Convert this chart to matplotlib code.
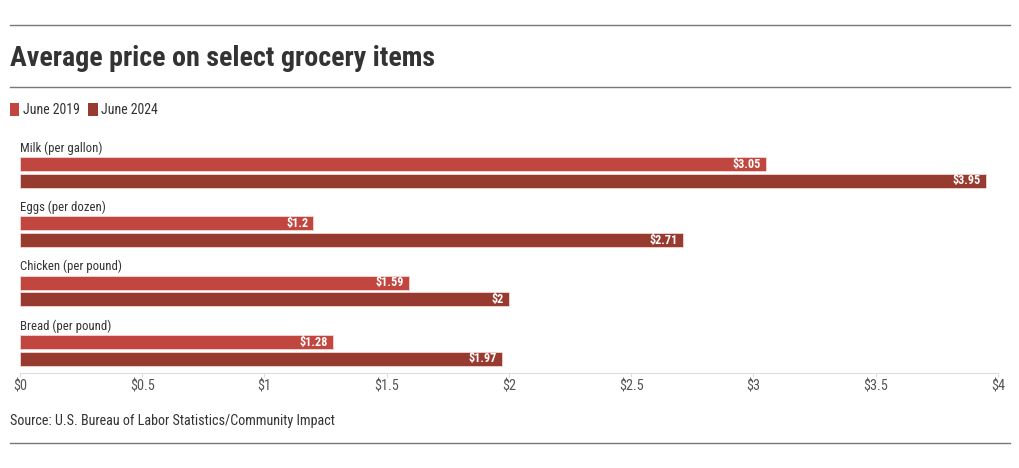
import matplotlib
matplotlib.use("Agg")
import matplotlib.pyplot as plt
from matplotlib.lines import Line2D
from matplotlib.patches import Patch
from matplotlib import font_manager

items = ["Milk (per gallon)", "Eggs (per dozen)", "Chicken (per pound)", "Bread (per pound)"]
june_2019 = [3.05, 1.2, 1.59, 1.28]
june_2024 = [3.95, 2.71, 2.0, 1.97]
series_names = ["June 2019", "June 2024"]
ticks = [0, 0.5, 1, 1.5, 2, 2.5, 3, 3.5, 4]
tick_labels = ["$0", "$0.5", "$1", "$1.5", "$2", "$2.5", "$3", "$3.5", "$4"]

c2019 = "#c1463f"
c2024 = "#973a2f"

names = {f.name for f in font_manager.fontManager.ttflist}
fam = ["Roboto Condensed", "Archivo Narrow", "Fira Sans Condensed", "Roboto"]
fam = [f for f in fam if f in names] + ["DejaVu Sans"]
plt.rcParams["font.family"] = fam

W, H = 1020, 468
fig = plt.figure(figsize=(W / 100, H / 100), dpi=100)

def fx(px):
    return px / W

def fy(py):
    return 1 - py / H

ax = fig.add_axes([fx(20), fy(373), fx(998) - fx(20), fy(140) - fy(373)])

bh = 0.236
for i, name in enumerate(items):
    ax.text(0, i, name, ha="left", va="center", fontsize=9.2, color="#333333")
    for val, off, col in [(june_2019[i], 0.27, c2019), (june_2024[i], 0.55, c2024)]:
        ax.barh(i + off, val, height=bh, color=col, edgecolor="#f2d6d3", linewidth=0.6)
        ax.text(val - 0.02, i + off, "$" + ("%g" % val), ha="right", va="center",
                fontsize=8.8, fontweight="bold", color="white")

ax.set_xlim(0, 4)
ax.set_ylim(3.79, -0.135)
ax.set_xticks(ticks)
ax.set_xticklabels(tick_labels, fontsize=10.3, color="#555555")
ax.set_yticks([])
for s in ["top", "right", "left"]:
    ax.spines[s].set_visible(False)
ax.spines["bottom"].set_color("#dddddd")
ax.tick_params(axis="x", length=3, color="#dddddd", pad=1.5)

fig.text(fx(10), fy(58), "Average price on select grocery items", fontsize=20.2,
         fontweight="bold", color="#333333", va="center", ha="left")
fig.text(fx(10), fy(421), "Source: U.S. Bureau of Labor Statistics/Community Impact",
         fontsize=10.2, color="#333333", va="center", ha="left")

for py in [25, 87, 443]:
    fig.add_artist(Line2D([fx(10), fx(1010)], [fy(py), fy(py)], color="#777777", lw=1))

handles = [Patch(facecolor=c2019), Patch(facecolor=c2024)]
fig.legend(handles, series_names, loc="center left", bbox_to_anchor=(fx(-3), fy(110)),
           ncol=2, frameon=False, fontsize=10, handlelength=0.7, handleheight=1.1,
           handletextpad=0.25, columnspacing=0.6, labelcolor="#333333")

fig.savefig("out.png", dpi=100)
